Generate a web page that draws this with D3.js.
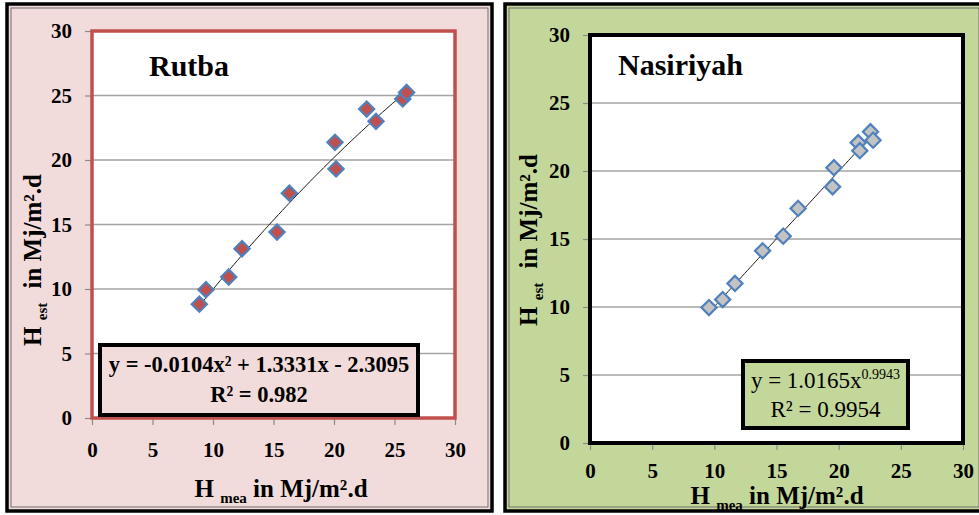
<!DOCTYPE html>
<html>
<head>
<meta charset="utf-8">
<script src="https://cdn.jsdelivr.net/npm/d3@7"></script>
<style>
  body { margin: 0; background: #fff; }
  svg text { font-family: 'Liberation Serif', 'DejaVu Serif', serif !important; }
</style>
</head>
<body>
<svg id="chart" width="979" height="515"></svg>
<script>
// Rutba: measured vs estimated (MJ/m2.d)
const rutbaMea = [8.87, 9.42, 11.3, 12.4, 15.29, 16.31, 20.08, 20.17, 22.7, 23.47, 25.68, 26.0];
const rutbaEst = [8.82, 9.95, 10.93, 13.12, 14.41, 17.43, 21.37, 19.31, 23.95, 23.0, 24.73, 25.24];
// polynomial fit a*x^2 + b*x + c
const rutbaFit = [-0.0104, 1.3331, -2.3095];

// Nasiriyah
const nasMea = [9.57, 10.67, 11.66, 13.88, 15.54, 16.74, 19.51, 19.62, 21.57, 21.7, 22.56, 22.77];
const nasEst = [9.96, 10.55, 11.73, 14.13, 15.21, 17.25, 18.84, 20.24, 22.08, 21.49, 22.89, 22.27];
// power fit a*x^b
const nasFit = [1.0165, 0.9943];

const tickValues = [0, 5, 10, 15, 20, 25, 30];
const gridValues = [5, 10, 15, 20, 25];

const svg = d3.select('#chart');

const drawPanel = p => {
  const g = svg.append('g');

  // panel background with double border
  g.append('rect')
    .attr('x', p.box[0]).attr('y', p.box[1])
    .attr('width', p.box[2]).attr('height', p.box[3])
    .attr('fill', p.bg).attr('stroke', '#000').attr('stroke-width', 3.5);
  g.append('rect')
    .attr('x', p.box[0] + 4).attr('y', p.box[1] + 4)
    .attr('width', p.box[2] - 8).attr('height', p.box[3] - 8)
    .attr('fill', 'none').attr('stroke', '#6f6f6f').attr('stroke-width', 1);

  const x = d3.scaleLinear().domain([0, 30]).range([p.plot.left, p.plot.right]);
  const y = d3.scaleLinear().domain([0, 30]).range([p.plot.bottom, p.plot.top]);

  g.append('rect')
    .attr('x', p.plot.left).attr('y', p.plot.top)
    .attr('width', p.plot.right - p.plot.left)
    .attr('height', p.plot.bottom - p.plot.top)
    .attr('fill', '#fff');

  g.selectAll('.grid')
    .data(gridValues)
    .enter()
    .append('line')
    .attr('x1', p.plot.left).attr('x2', p.plot.right)
    .attr('y1', d => y(d)).attr('y2', d => y(d))
    .attr('stroke', '#a3a3a3').attr('stroke-width', 1.5);

  const yAxis = g.append('g')
    .attr('transform', `translate(${p.plot.left},0)`)
    .call(d3.axisLeft(y).tickValues(tickValues).tickSizeInner(7).tickSizeOuter(0).tickPadding(13));
  const xAxis = g.append('g')
    .attr('transform', `translate(0,${p.plot.bottom})`)
    .call(d3.axisBottom(x).tickValues(tickValues).tickSizeInner(7).tickSizeOuter(0).tickPadding(p.xPad));
  [xAxis, yAxis].forEach(a => {
    a.attr('font-family', null);
    a.select('.domain').remove();
    a.selectAll('line').attr('stroke', '#8a8a8a').attr('stroke-width', 1.2);
    a.selectAll('text')
      .attr('fill', '#000')
      .attr('font-size', 21)
      .attr('font-weight', 'bold');
  });

  // plot frame
  g.append('rect')
    .attr('x', p.plot.left).attr('y', p.plot.top)
    .attr('width', p.plot.right - p.plot.left)
    .attr('height', p.plot.bottom - p.plot.top)
    .attr('fill', 'none').attr('stroke', p.frame).attr('stroke-width', p.frameWidth);

  // trendline
  const lo = d3.min(p.mea);
  const hi = d3.max(p.mea);
  const xs = d3.range(0, 61).map(i => lo + (hi - lo) * i / 60);
  g.append('path')
    .datum(xs)
    .attr('fill', 'none')
    .attr('stroke', '#1a1a1a')
    .attr('stroke-width', 1)
    .attr('d', d3.line().x(d => x(d)).y(d => y(p.fit(d))));

  // points
  const pts = p.mea.map((m, i) => ({ m, e: p.est[i] }));
  g.selectAll('.pt')
    .data(pts)
    .enter()
    .append('path')
    .attr('d', d3.symbol(d3.symbolSquare, 115))
    .attr('transform', d => `translate(${x(d.m)},${y(d.e)}) rotate(45)`)
    .attr('fill', p.marker)
    .attr('stroke', '#4f81bd')
    .attr('stroke-width', 2.2);

  // station name
  g.append('text')
    .attr('x', p.name[1]).attr('y', p.name[2])
    .attr('font-size', 30).attr('font-weight', 'bold')
    .text(p.name[0]);

  // x title
  const xt = g.append('text')
    .attr('x', p.xTitle[0]).attr('y', p.xTitle[1])
    .attr('text-anchor', 'middle')
    .attr('font-size', 25).attr('font-weight', 'bold');
  xt.append('tspan').text('H ');
  xt.append('tspan').attr('font-size', 15).attr('dy', 6).text('mea');
  xt.append('tspan').attr('dy', -6).text(' in Mj/m²');
  xt.append('tspan').text('.d');

  // y title
  const yt = g.append('text')
    .attr('transform', `translate(${p.yTitle[0]},${p.yTitle[1]}) rotate(-90)`)
    .attr('text-anchor', 'middle')
    .attr('font-size', 25).attr('font-weight', 'bold');
  yt.append('tspan').text('H ');
  yt.append('tspan').attr('font-size', 15).attr('dy', 6).text('est');
  yt.append('tspan').attr('dy', -6).attr('dx', 8).text(' in Mj/m²');
  yt.append('tspan').text('.d');

  // equation box
  const eb = p.eqBox;
  g.append('rect')
    .attr('x', eb[0]).attr('y', eb[1]).attr('width', eb[2]).attr('height', eb[3])
    .attr('fill', p.bg).attr('stroke', '#000').attr('stroke-width', 4);
  p.eqText(g, eb[0] + eb[2] / 2, eb[1]);
};

drawPanel({
  box: [7, 4, 485, 507],
  bg: '#f2dcdb',
  plot: { left: 92, right: 455, top: 31, bottom: 418 },
  frame: '#c0504d',
  frameWidth: 3.5,
  marker: '#c0504d',
  mea: rutbaMea,
  est: rutbaEst,
  fit: v => rutbaFit[0] * v * v + rutbaFit[1] * v + rutbaFit[2],
  xPad: 17,
  name: ['Rutba', 149, 76],
  xTitle: [281, 497],
  yTitle: [41, 260],
  eqBox: [100, 345, 318, 70],
  eqText: (g, cx, top) => {
    const t = g.append('text')
      .attr('text-anchor', 'middle').attr('font-size', 22.5).attr('font-weight', 'bold');
    t.append('tspan').attr('x', cx).attr('y', top + 27)
      .text(`y = ${rutbaFit[0].toFixed(4)}x² + ${rutbaFit[1].toFixed(4)}x - ${Math.abs(rutbaFit[2]).toFixed(4)}`);
    t.append('tspan').attr('x', cx).attr('y', top + 57).text('R² = 0.982');
  }
});

drawPanel({
  box: [505, 4, 478, 507],
  bg: '#c4d79b',
  plot: { left: 590, right: 963, top: 35, bottom: 443 },
  frame: '#000',
  frameWidth: 4,
  marker: '#c3c3c3',
  mea: nasMea,
  est: nasEst,
  fit: v => nasFit[0] * Math.pow(v, nasFit[1]),
  xPad: 13,
  name: ['Nasiriyah', 618, 75],
  xTitle: [777, 504],
  yTitle: [537, 240],
  eqBox: [743, 361, 165, 67],
  eqText: (g, cx, top) => {
    const t = g.append('text')
      .attr('text-anchor', 'middle').attr('font-size', 23);
    t.append('tspan').attr('x', cx).attr('y', top + 27).text(`y = ${nasFit[0].toFixed(4)}x`);
    t.append('tspan').attr('font-size', 14).attr('dy', -9).text(nasFit[1].toFixed(4));
    t.append('tspan').attr('x', cx).attr('y', top + 56).text('R² = 0.9954');
  }
});
</script>
</body>
</html>
